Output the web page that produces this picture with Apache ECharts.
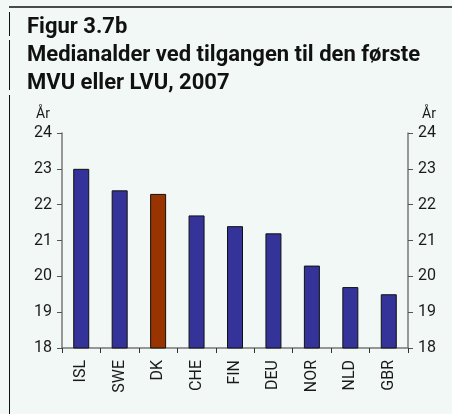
<!DOCTYPE html>
<html>
<head>
<meta charset="utf-8">
<script src="https://cdn.jsdelivr.net/npm/echarts@6/dist/echarts.min.js"></script>
<style>
html,body{margin:0;padding:0;background:#f2f8f6;}
#main{width:452px;height:414px;}
</style>
</head>
<body>
<div id="main"></div>
<script>
// data
var countries = ['ISL', 'SWE', 'DK', 'CHE', 'FIN', 'DEU', 'NOR', 'NLD', 'GBR'];
var medianAge = [23.0, 22.4, 22.3, 21.7, 21.4, 21.2, 20.3, 19.7, 19.5];
var highlight = 'DK';
var yTicks = [18, 19, 20, 21, 22, 23, 24];

var chart = echarts.init(document.getElementById('main'));

var barData = medianAge.map(function (v, i) {
	return {
		value: v,
		itemStyle: {color: countries[i] == highlight ? '#993300' : '#333399'}
	};
});

var axisCommon = {
	type: 'value',
	min: yTicks[0],
	max: yTicks[yTicks.length - 1],
	interval: 1,
	name: 'År',
	nameLocation: 'end',
	nameGap: 12,
	axisLine: {show: true, lineStyle: {color: '#777', width: 1.5}},
	axisTick: {show: true, length: 5, lineStyle: {color: '#555'}},
	axisLabel: {color: '#1a1a1a', fontSize: 16, fontFamily: 'Roboto', margin: 10},
	splitLine: {show: false}
};

var option = {
	backgroundColor: '#f2f8f6',
	animation: false,
	title: [
		{
			text: 'Figur 3.7b',
			left: 22, top: 8,
			textStyle: {fontFamily: 'Roboto', fontWeight: 'bold', fontSize: 22, lineHeight: 28, color: '#111'}
		},
		{
			text: 'Medianalder ved tilgangen til den første\nMVU eller LVU, 2007',
			left: 22, top: 36,
			textStyle: {fontFamily: 'Roboto', fontWeight: 'bold', fontSize: 22, lineHeight: 28, color: '#111'}
		}
	],
	graphic: [
		{type: 'line', shape: {x1: 9, y1: 7, x2: 452, y2: 7}, style: {stroke: '#111', lineWidth: 1.5}},
		{type: 'line', shape: {x1: 9.5, y1: 12, x2: 9.5, y2: 36}, style: {stroke: '#111', lineWidth: 1}},
		{type: 'line', shape: {x1: 9.5, y1: 40, x2: 9.5, y2: 90}, style: {stroke: '#111', lineWidth: 1}},
		{type: 'line', shape: {x1: 9.5, y1: 95, x2: 9.5, y2: 414}, style: {stroke: '#111', lineWidth: 1}}
	],
	grid: {left: 62, right: 44, top: 133, bottom: 66},
	xAxis: {
		type: 'category',
		data: countries,
		axisLine: {lineStyle: {color: '#777', width: 1.5}},
		axisTick: {show: true, length: 5, lineStyle: {color: '#333'}},
		axisLabel: {rotate: 90, color: '#1a1a1a', fontSize: 16, fontFamily: 'Roboto', margin: 12}
	},
	yAxis: [
		Object.assign({}, axisCommon, {
			position: 'left',
			nameTextStyle: {color: '#1a1a1a', fontSize: 14, fontFamily: 'Roboto', align: 'right', padding: [0, 12, 0, 0]}
		}),
		Object.assign({}, axisCommon, {
			position: 'right',
			nameTextStyle: {color: '#1a1a1a', fontSize: 14, fontFamily: 'Roboto', align: 'left', padding: [0, 0, 0, 14]}
		})
	],
	series: [
		{
			type: 'bar',
			data: barData,
			barWidth: 16,
			itemStyle: {borderColor: '#111', borderWidth: 1}
		}
	]
};

chart.setOption(option);
</script>
</body>
</html>
